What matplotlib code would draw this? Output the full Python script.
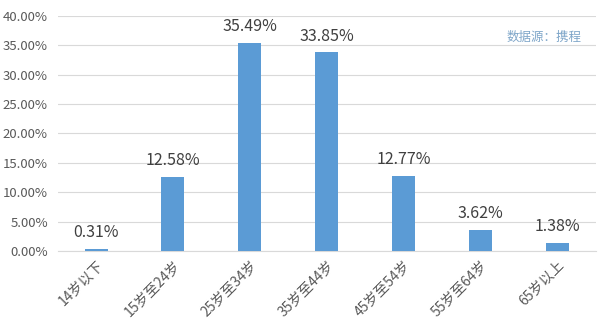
import matplotlib
matplotlib.use("Agg")
import matplotlib.pyplot as plt
from matplotlib.ticker import MultipleLocator, FuncFormatter

plt.rcParams['font.family'] = ['Noto Sans CJK SC', 'DejaVu Sans']

categories = ["14岁以下", "15岁至24岁", "25岁至34岁", "35岁至44岁", "45岁至54岁", "55岁至64岁", "65岁以上"]
values = [0.31, 12.58, 35.49, 33.85, 12.77, 3.62, 1.38]
source_text = "数据源：携程"

fig = plt.figure(figsize=(6, 3.35), dpi=100)
ax = fig.add_axes([0.096, 0.251, 0.897, 0.701])

x = list(range(len(categories)))
bars = ax.bar(x, values, width=0.3, color="#5B9BD5", zorder=3)
for xi, v in zip(x, values):
    ax.text(xi, v + 1.3, f"{v:.2f}%", ha="center", va="bottom", fontsize=11.5, color="#404040")

ax.set_xlim(-0.5, len(categories) - 0.5)
ax.set_ylim(0, 40)
ax.yaxis.set_major_locator(MultipleLocator(5))
ax.yaxis.set_major_formatter(FuncFormatter(lambda v, p: f"{v:.2f}%"))
ax.grid(axis="y", color="#D9D9D9", linewidth=0.8, zorder=0)
for s in ["top", "right", "left"]:
    ax.spines[s].set_visible(False)
ax.spines["bottom"].set_color("#D9D9D9")
ax.tick_params(axis="y", length=0, labelsize=9.5, labelcolor="#595959", pad=7)
ax.tick_params(axis="x", length=0, labelsize=10, labelcolor="#595959", pad=5)
ax.set_xticks(x)
ax.set_xticklabels(categories, rotation=45, ha="right", rotation_mode="anchor")

ax.text(0.974, 0.91, source_text, transform=ax.transAxes, ha="right", va="center",
        fontsize=9, color="#7FA6C9")

fig.savefig("out.png", dpi=100)
